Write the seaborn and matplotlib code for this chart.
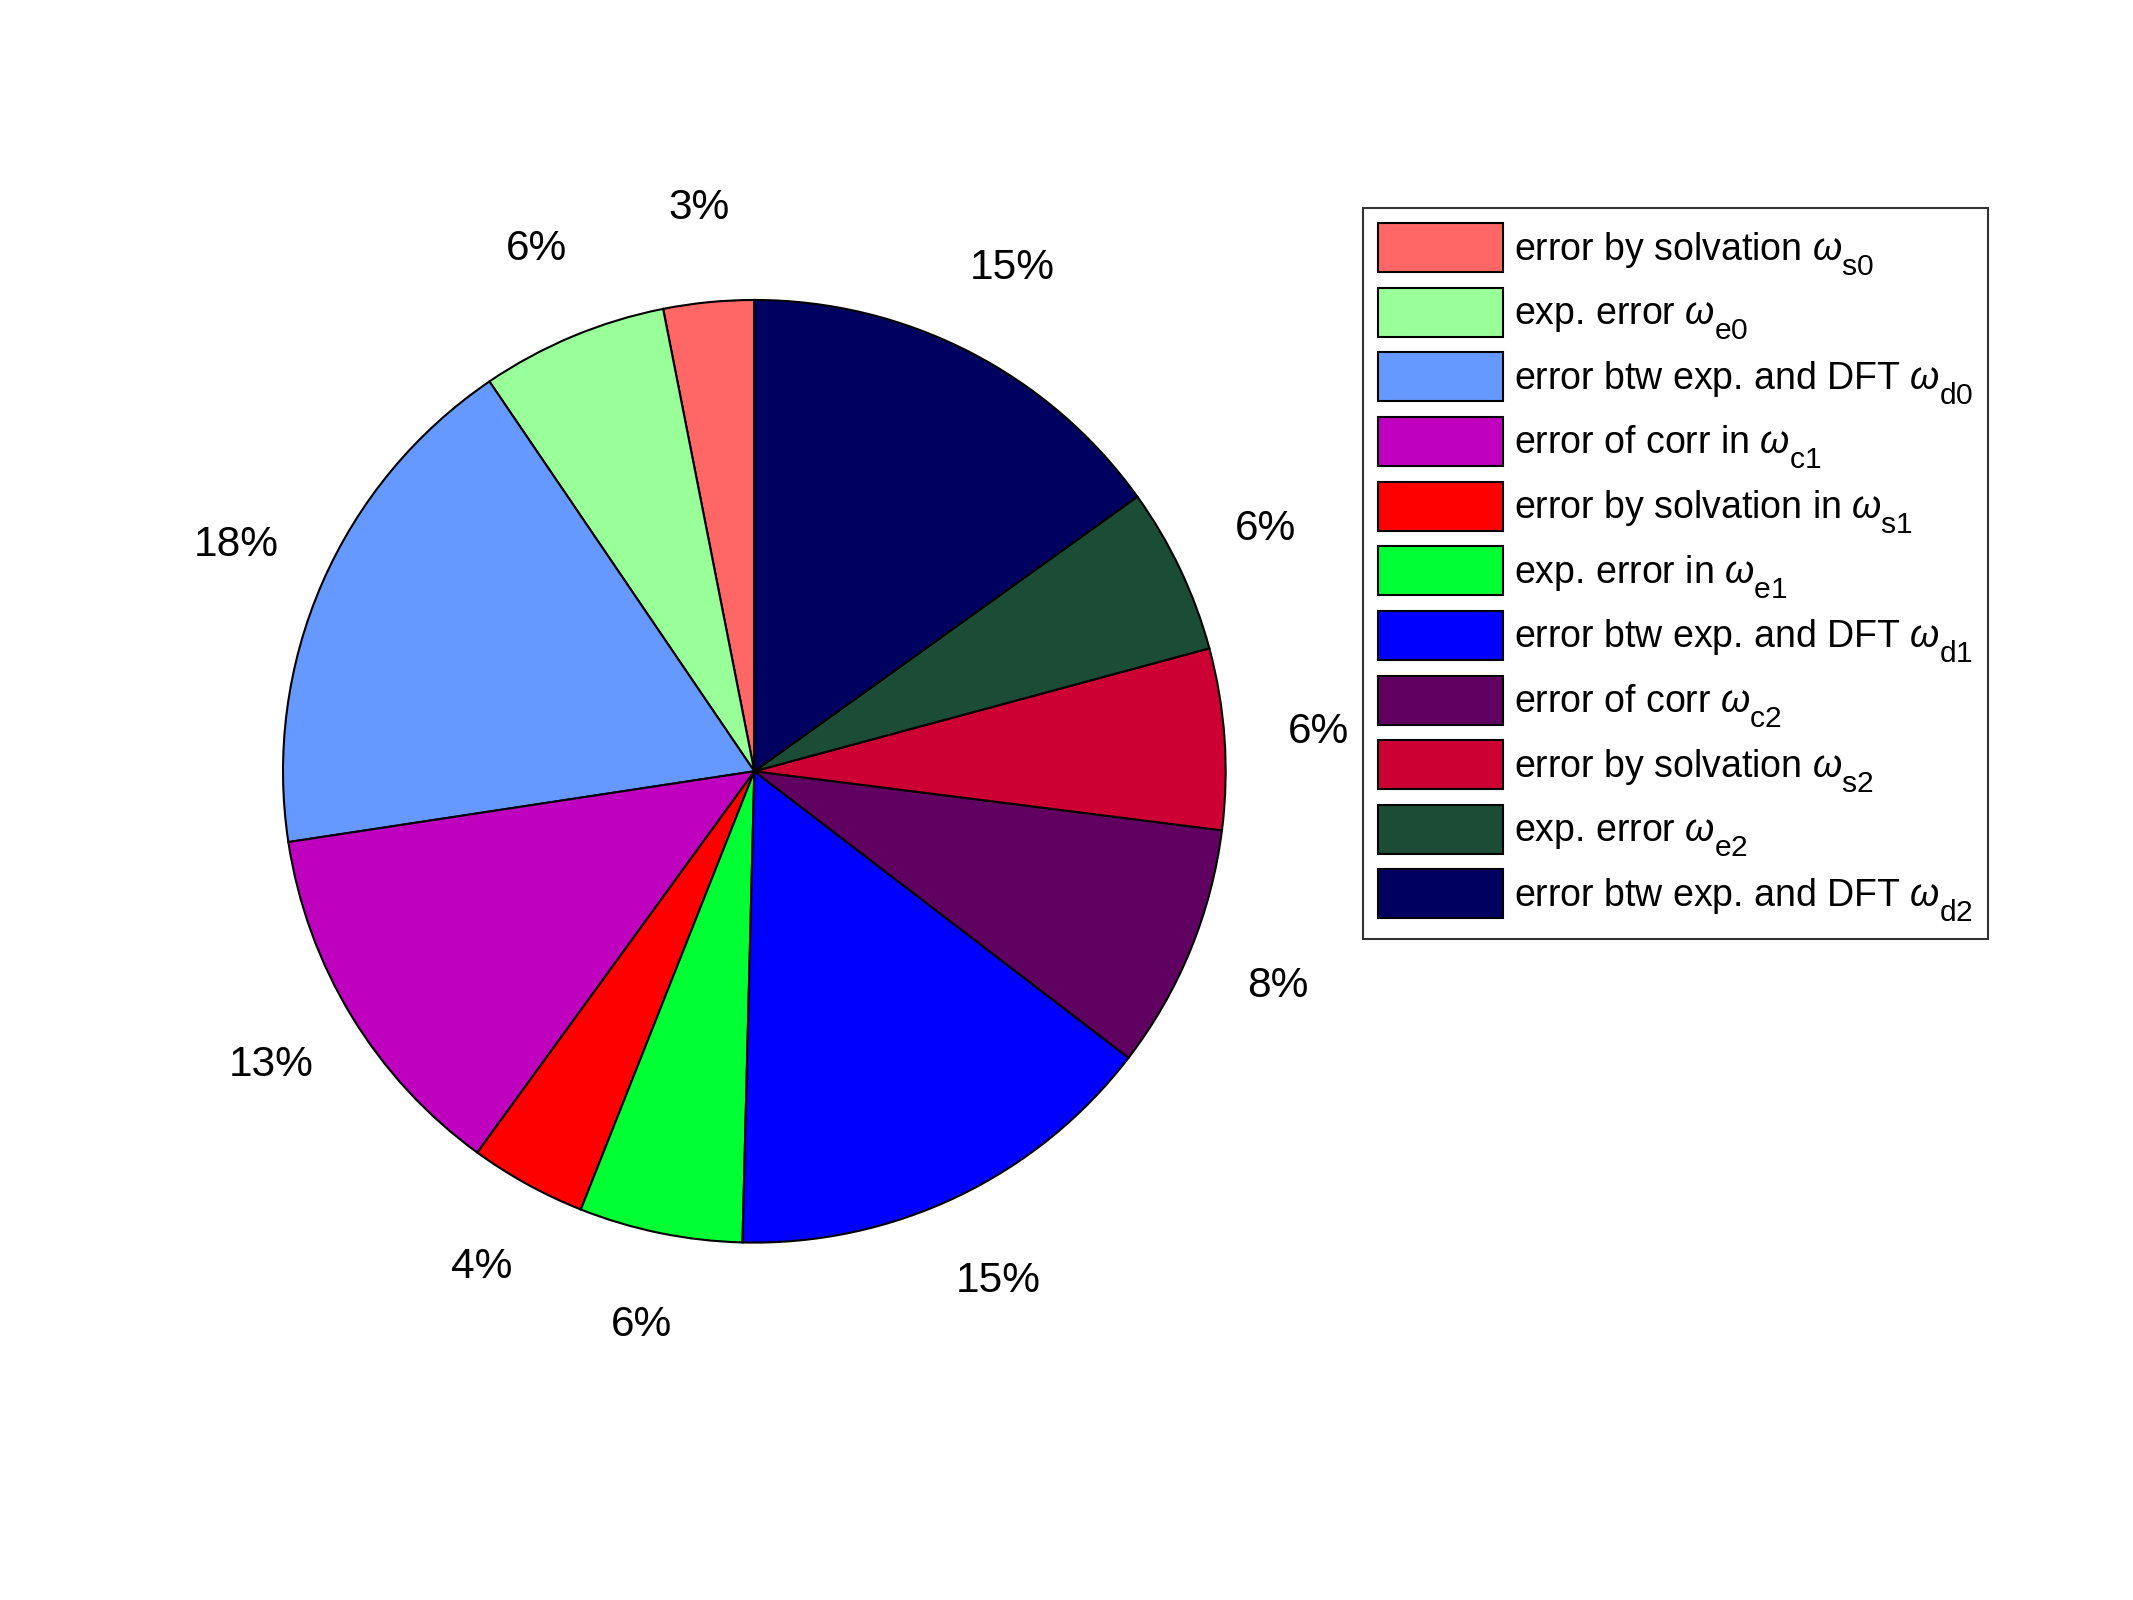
import matplotlib
matplotlib.use("Agg")
import matplotlib.pyplot as plt
import seaborn as sns
import numpy as np

try:
    import matplotlib._mathtext as _mt
    _mt.SHRINK_FACTOR = 0.8
    _mt.FontConstantsBase.sub1 = 0.75
    _mt.DejaVuSansFontConstants.sub1 = 0.75
except Exception:
    pass

# ---- data ----
categories = [
    r"error by solvation $\omega_{\mathrm{s0}}$",
    r"exp. error $\omega_{\mathrm{e0}}$",
    r"error btw exp. and DFT $\omega_{\mathrm{d0}}$",
    r"error of corr in $\omega_{\mathrm{c1}}$",
    r"error by solvation in $\omega_{\mathrm{s1}}$",
    r"exp. error in $\omega_{\mathrm{e1}}$",
    r"error btw exp. and DFT $\omega_{\mathrm{d1}}$",
    r"error of corr $\omega_{\mathrm{c2}}$",
    r"error by solvation $\omega_{\mathrm{s2}}$",
    r"exp. error $\omega_{\mathrm{e2}}$",
    r"error btw exp. and DFT $\omega_{\mathrm{d2}}$",
]
shares = [3.1, 6.4, 17.9, 12.6, 4.0, 5.6, 15.0, 8.4, 6.2, 5.7, 15.1]
colors = ["#FF6666", "#99FF99", "#6699FF", "#BF00BF", "#FF0000", "#00FF33",
          "#0000FF", "#600060", "#CC0033", "#1B4D36", "#000060"]

sns.set_theme(style="white")
plt.rcParams["font.family"] = ["Liberation Sans", "DejaVu Sans"]
plt.rcParams["text.color"] = "black"
plt.rcParams["mathtext.fontset"] = "custom"
plt.rcParams["mathtext.rm"] = "Liberation Sans"
plt.rcParams["mathtext.it"] = "Liberation Sans:italic"

fig = plt.figure(figsize=(21.33, 16), dpi=100)
fig.patch.set_facecolor("white")

ax = fig.add_axes([0.0222, 0.0761, 0.6629, 0.8837])
total = sum(shares)
pct_labels = [f"{round(100 * v / total):d}%" for v in shares]

wedges, texts = ax.pie(
    shares, labels=pct_labels, colors=colors, startangle=90, counterclock=True,
    labeldistance=1.2,
    wedgeprops=dict(edgecolor="black", linewidth=1.5),
    textprops=dict(fontsize=30.5, color="black"),
)
for t in texts:
    t.set_horizontalalignment("center")
    t.set_verticalalignment("center")
ax.set_xlim(-1.5, 1.5)
ax.set_ylim(-1.5, 1.5)
ax.set_aspect("auto")
ax.axis("off")

leg = fig.legend(
    wedges, categories, loc="upper left", bbox_to_anchor=(0.639, 0.870),
    bbox_transform=fig.transFigure,
    prop=dict(family=["Liberation Sans", "DejaVu Sans"], size=27),
    frameon=True, fancybox=False, framealpha=1,
    handlelength=3.33, handleheight=1.635, handletextpad=0.3,
    labelspacing=0.27, borderpad=0.4, borderaxespad=0,
    labelcolor="black",
)
leg.get_frame().set_edgecolor("#333333")
leg.get_frame().set_linewidth(1.5)

fig.savefig("out.png", dpi=100, facecolor="white")
